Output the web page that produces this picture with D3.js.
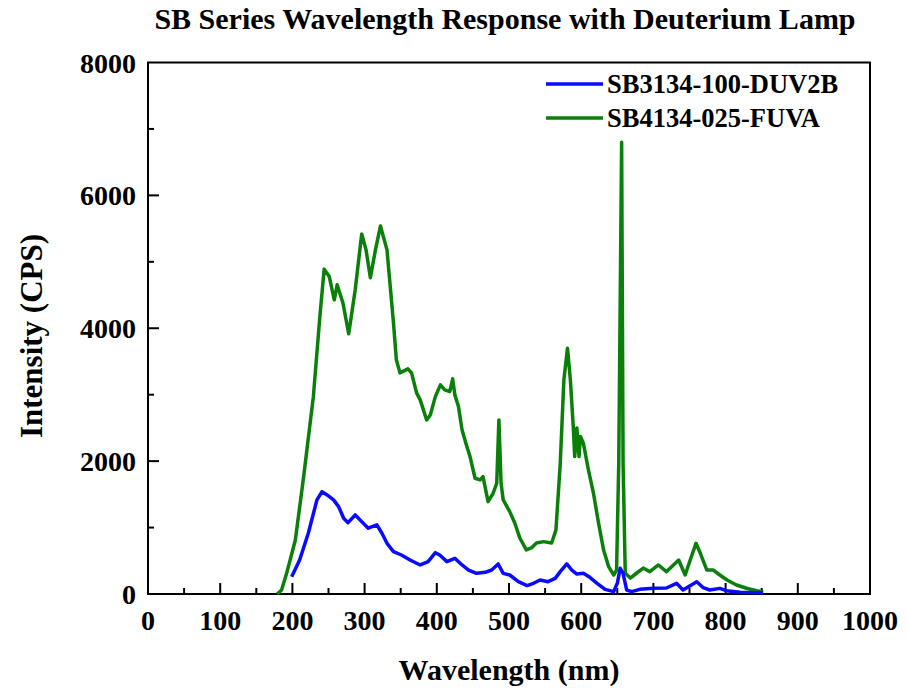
<!DOCTYPE html>
<html lang="en">
<head>
    <meta charset="UTF-8">
    <title>SB Series Wavelength Response</title>
    <style>
        body { margin: 0; background: #fff; }
        text { font-family: "Liberation Serif", "Times New Roman", serif; font-weight: bold; }
    </style>
</head>
<body>
    <script src="https://d3js.org/d3.v7.min.js"></script>
    <script>
        // data
        var blueWl = [199, 210, 222, 234, 241, 248, 257, 264, 271, 277, 287, 296, 305, 317, 324, 331, 340, 351, 363, 377, 388, 398, 404, 414, 425, 435, 444, 455, 467, 476, 485, 492, 501, 513, 525, 534, 543, 554, 564, 571, 580, 587, 594, 603, 612, 622, 633, 645, 650, 654, 658, 663, 670, 681, 700, 718, 732, 741, 760, 769, 778, 792, 801, 820, 852];
        var blueVal = [261, 512, 914, 1416, 1541, 1491, 1416, 1315, 1140, 1074, 1190, 1089, 990, 1040, 914, 763, 638, 587, 512, 437, 487, 622, 587, 487, 537, 437, 361, 311, 326, 361, 452, 311, 286, 185, 126, 161, 211, 185, 236, 336, 452, 361, 301, 311, 251, 161, 70, 35, 161, 387, 311, 60, 35, 70, 85, 90, 161, 60, 185, 95, 60, 85, 50, 25, 20];

        var greenWl = [179, 185, 192, 204, 215, 229, 238, 244, 251, 258, 262, 270, 278, 287, 296, 302, 308, 315, 322, 331, 340, 344, 349, 360, 365, 372, 377, 386, 391, 398, 405, 411, 418, 422, 425, 430, 435, 441, 446, 453, 460, 464, 471, 478, 483, 486, 489, 492, 501, 508, 515, 524, 531, 538, 548, 559, 565, 571, 576, 581, 585, 589, 591, 594, 597, 599, 603, 610, 617, 624, 631, 638, 645, 649, 652, 656, 658, 661, 668, 677, 686, 695, 707, 718, 735, 744, 751, 759, 765, 774, 783, 792, 802, 815, 829, 843, 852];
        var greenVal = [0, 60, 311, 810, 1717, 2967, 4172, 4890, 4780, 4428, 4654, 4380, 3916, 4580, 5420, 5180, 4760, 5180, 5540, 5180, 4080, 3524, 3328, 3388, 3328, 3027, 2922, 2620, 2696, 2971, 3148, 3072, 3047, 3238, 2997, 2821, 2470, 2244, 2068, 1742, 1717, 1767, 1390, 1516, 1667, 2620, 1667, 1416, 1240, 1068, 843, 663, 693, 768, 788, 768, 964, 1968, 3223, 3700, 3223, 2520, 2068, 2500, 2068, 2370, 2270, 1867, 1516, 1068, 663, 412, 286, 361, 1968, 6800, 1968, 316, 240, 316, 391, 336, 437, 336, 512, 286, 512, 763, 613, 361, 361, 286, 211, 136, 86, 50, 35];

        var seriesNames = ["SB3134-100-DUV2B", "SB4134-025-FUVA"];
        var seriesColors = ["#0a0aff", "#0a800a"];
        var xTicks = [0, 100, 200, 300, 400, 500, 600, 700, 800, 900, 1000];
        var yTicks = [0, 2000, 4000, 6000, 8000];

        var width = 908, height = 689;
        var pLeft = 148, pRight = 870, pTop = 62.5, pBottom = 594;

        var svg = d3.select('body').append('svg').attr('width', width).attr('height', height);

        var x = d3.scaleLinear().domain([0, 1000]).range([pLeft, pRight]);
        var y = d3.scaleLinear().domain([0, 8000]).range([pBottom, pTop]);

        // frame
        svg.append('rect').attr('x', pLeft).attr('y', pTop)
            .attr('width', pRight - pLeft).attr('height', pBottom - pTop)
            .attr('fill', 'none').attr('stroke', '#000').attr('stroke-width', 2);

        // ticks point inward
        var xMinor = d3.range(50, 1000, 100);
        svg.selectAll('.xmaj').data(xTicks.slice(1, -1)).enter().append('line')
            .attr('x1', function (d) { return x(d); }).attr('x2', function (d) { return x(d); })
            .attr('y1', pBottom).attr('y2', pBottom - 11).attr('stroke', '#000').attr('stroke-width', 2);
        svg.selectAll('.xmin').data(xMinor).enter().append('line')
            .attr('x1', function (d) { return x(d); }).attr('x2', function (d) { return x(d); })
            .attr('y1', pBottom).attr('y2', pBottom - 6).attr('stroke', '#000').attr('stroke-width', 2);
        var yMinor = [1000, 3000, 5000, 7000];
        svg.selectAll('.ymaj').data(yTicks.slice(1, -1)).enter().append('line')
            .attr('y1', function (d) { return y(d); }).attr('y2', function (d) { return y(d); })
            .attr('x1', pLeft).attr('x2', pLeft + 11).attr('stroke', '#000').attr('stroke-width', 2);
        svg.selectAll('.ymin').data(yMinor).enter().append('line')
            .attr('y1', function (d) { return y(d); }).attr('y2', function (d) { return y(d); })
            .attr('x1', pLeft).attr('x2', pLeft + 6).attr('stroke', '#000').attr('stroke-width', 2);

        // tick labels
        svg.selectAll('.xl').data(xTicks).enter().append('text')
            .attr('x', function (d) { return x(d); }).attr('y', 630)
            .attr('text-anchor', 'middle').attr('font-size', 28).text(function (d) { return d; });
        svg.selectAll('.yl').data(yTicks).enter().append('text')
            .attr('x', 136).attr('y', function (d) { return y(d) + 10; })
            .attr('text-anchor', 'end').attr('font-size', 28).text(function (d) { return d; });

        // titles
        svg.append('text').attr('x', 505).attr('y', 29).attr('text-anchor', 'middle')
            .attr('font-size', 30).text('SB Series Wavelength Response with Deuterium Lamp');
        svg.append('text').attr('x', 509).attr('y', 680).attr('text-anchor', 'middle')
            .attr('font-size', 30).text('Wavelength (nm)');
        svg.append('text').attr('transform', 'translate(42,336) rotate(-90)').attr('text-anchor', 'middle')
            .attr('font-size', 31).text('Intensity (CPS)');

        // curves
        var line = d3.line()
            .x(function (d) { return x(d[0]); })
            .y(function (d) { return y(d[1]); });
        var blue = d3.zip(blueWl, blueVal);
        var green = d3.zip(greenWl, greenVal);
        svg.append('path').datum(green).attr('d', line).attr('fill', 'none')
            .attr('stroke', seriesColors[1]).attr('stroke-width', 3.5).attr('stroke-linejoin', 'round');
        svg.append('path').datum(blue).attr('d', line).attr('fill', 'none')
            .attr('stroke', seriesColors[0]).attr('stroke-width', 3.5).attr('stroke-linejoin', 'round');

        // legend
        var legY = [84, 118];
        seriesNames.forEach(function (name, i) {
            svg.append('line').attr('x1', 546).attr('x2', 603).attr('y1', legY[i]).attr('y2', legY[i])
                .attr('stroke', seriesColors[i]).attr('stroke-width', 3.5);
            svg.append('text').attr('x', 607).attr('y', legY[i] + 9).attr('font-size', 26.5).text(name);
        });
    </script>
</body>
</html>
